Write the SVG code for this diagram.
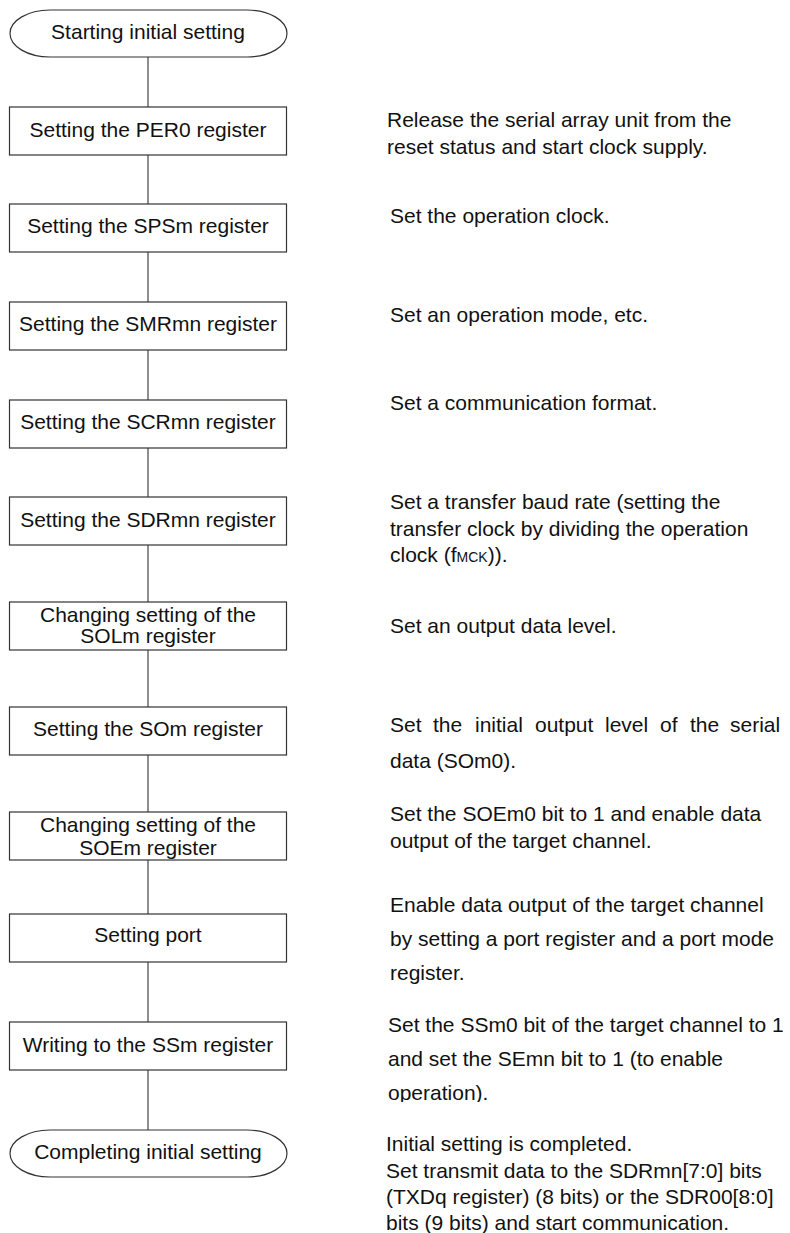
<svg xmlns="http://www.w3.org/2000/svg" width="790" height="1233" viewBox="0 0 790 1233">
<style>
.box{fill:#fff;stroke:#333;stroke-width:1.2}
.t{font-family:"Liberation Sans",Arial,sans-serif;font-size:21px;fill:#111}
.c{text-anchor:middle}
.con line{stroke:#444;stroke-width:1.2}
</style>
<defs>
<clipPath id="clipOp"><rect x="380" y="1070" width="410" height="32"/></clipPath>
</defs>
<rect width="790" height="1233" fill="#fff"/>
<g class="con">
<line x1="148" y1="57" x2="148" y2="107"/>
<line x1="148" y1="155" x2="148" y2="204"/>
<line x1="148" y1="252" x2="148" y2="302"/>
<line x1="148" y1="350" x2="148" y2="400"/>
<line x1="148" y1="448" x2="148" y2="497"/>
<line x1="148" y1="545" x2="148" y2="602"/>
<line x1="148" y1="650" x2="148" y2="707"/>
<line x1="148" y1="755" x2="148" y2="812"/>
<line x1="148" y1="860" x2="148" y2="914"/>
<line x1="148" y1="962" x2="148" y2="1022"/>
<line x1="148" y1="1070" x2="148" y2="1130"/>
</g>
<g id="start"><rect class="box" x="10" y="10" width="277" height="47" rx="40" ry="23.5"/><text class="t c" x="148" y="38.5">Starting initial setting</text></g>
<g id="per0"><rect class="box" x="9.5" y="107" width="277" height="48"/><text class="t c" x="148" y="137">Setting the PER0 register</text></g>
<g id="spsm"><rect class="box" x="9.5" y="204" width="277" height="48"/><text class="t c" x="148" y="233">Setting the SPSm register</text></g>
<g id="smrmn"><rect class="box" x="9.5" y="302" width="277" height="48"/><text class="t c" x="148" y="331">Setting the SMRmn register</text></g>
<g id="scrmn"><rect class="box" x="9.5" y="400" width="277" height="48"/><text class="t c" x="148" y="429">Setting the SCRmn register</text></g>
<g id="sdrmn"><rect class="box" x="9.5" y="497" width="277" height="48"/><text class="t c" x="148" y="527">Setting the SDRmn register</text></g>
<g id="solm"><rect class="box" x="9.5" y="602" width="277" height="48"/><text class="t c" x="148" y="622">Changing setting of the</text><text class="t c" x="148" y="643">SOLm register</text></g>
<g id="som"><rect class="box" x="9.5" y="707" width="277" height="48"/><text class="t c" x="148" y="736">Setting the SOm register</text></g>
<g id="soem"><rect class="box" x="9.5" y="812" width="277" height="48"/><text class="t c" x="148" y="832">Changing setting of the</text><text class="t c" x="148" y="855">SOEm register</text></g>
<g id="port"><rect class="box" x="9.5" y="914" width="277" height="48"/><text class="t c" x="148" y="942">Setting port</text></g>
<g id="ssm"><rect class="box" x="9.5" y="1022" width="277" height="48"/><text class="t c" x="148" y="1052">Writing to the SSm register</text></g>
<g id="end"><rect class="box" x="10" y="1130" width="277" height="47" rx="40" ry="23.5"/><text class="t c" x="148" y="1159">Completing initial setting</text></g>
<g id="notes">
<text class="t" x="387" y="127">Release the serial array unit from the</text>
<text class="t" x="387" y="154">reset status and start clock supply.</text>
<text class="t" x="390" y="223">Set the operation clock.</text>
<text class="t" x="390" y="322">Set an operation mode, etc.</text>
<text class="t" x="390" y="410">Set a communication format.</text>
<text class="t" x="390" y="509">Set a transfer baud rate (setting the</text>
<text class="t" x="390" y="536">transfer clock by dividing the operation</text>
<text class="t" x="390" y="562">clock (f<tspan font-size="14">MCK</tspan>)).</text>
<text class="t" x="390" y="633">Set an output data level.</text>
<text class="t" y="732"><tspan x="390">Set</tspan><tspan x="433">the</tspan><tspan x="475">initial</tspan><tspan x="535">output</tspan><tspan x="605">level</tspan><tspan x="660">of</tspan><tspan x="690">the</tspan><tspan x="730">serial</tspan></text>
<text class="t" x="390" y="768">data (SOm0).</text>
<text class="t" x="390" y="821">Set the SOEm0 bit to 1 and enable data</text>
<text class="t" x="390" y="848">output of the target channel.</text>
<text class="t" x="390" y="912">Enable data output of the target channel</text>
<text class="t" x="390" y="946">by setting a port register and a port mode</text>
<text class="t" x="390" y="980">register.</text>
<text class="t" x="388" y="1032">Set the SSm0 bit of the target channel to 1</text>
<text class="t" x="388" y="1066">and set the SEmn bit to 1 (to enable</text>
<text class="t" x="388" y="1100" clip-path="url(#clipOp)">operation).</text>
<text class="t" x="386" y="1151">Initial setting is completed.</text>
<text class="t" x="386" y="1178">Set transmit data to the SDRmn[7:0] bits</text>
<text class="t" x="386" y="1204">(TXDq register) (8 bits) or the SDR00[8:0]</text>
<text class="t" x="386" y="1230">bits (9 bits) and start communication.</text>
</g>
</svg>
